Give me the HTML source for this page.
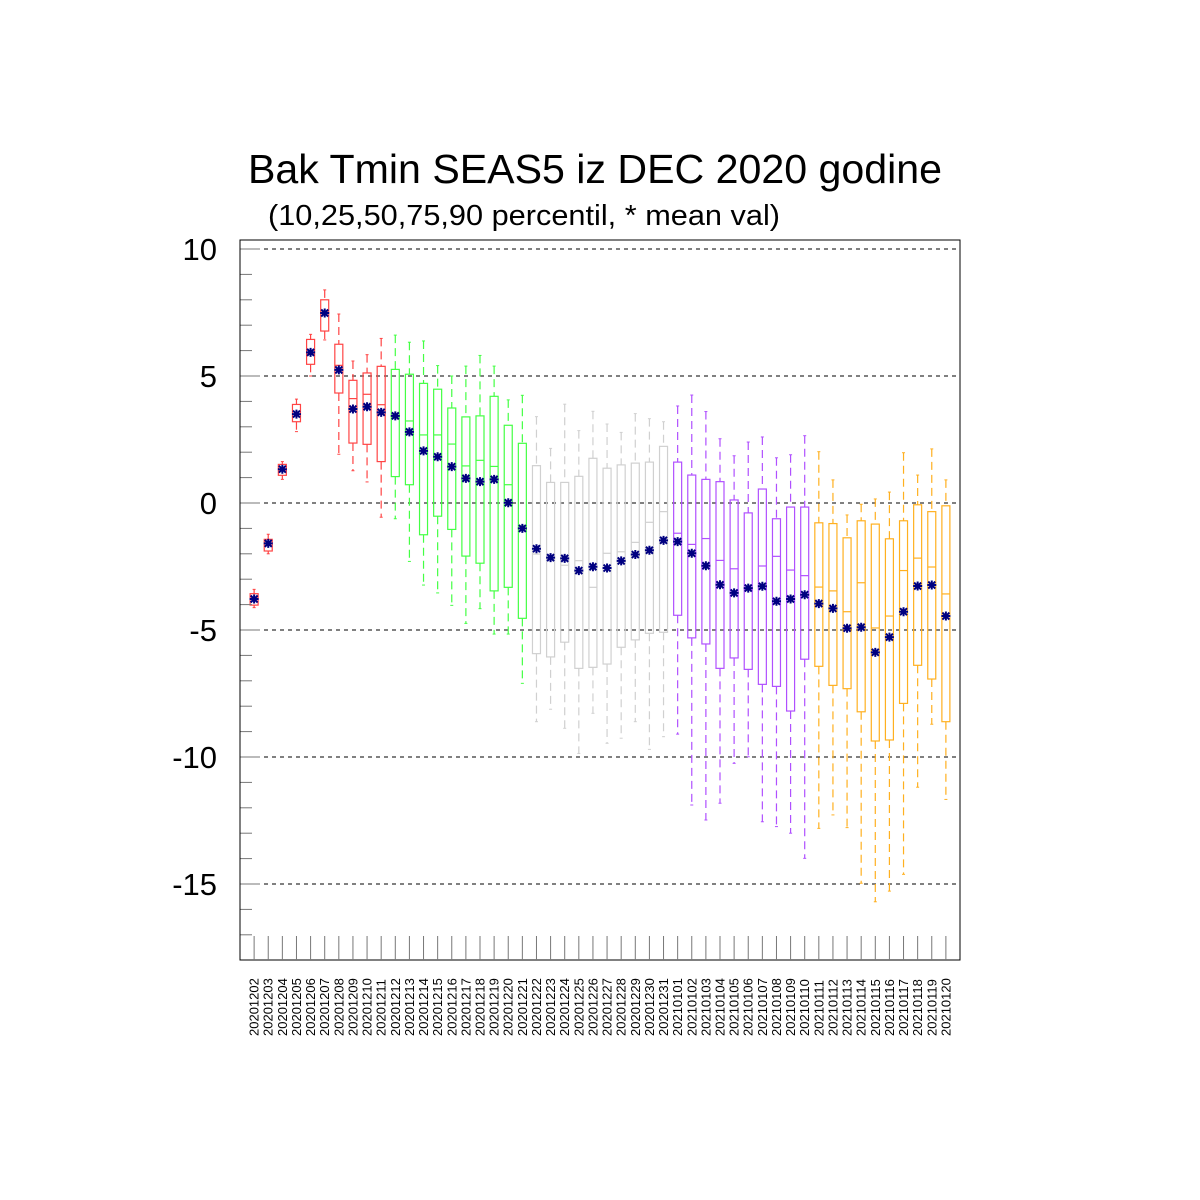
<!DOCTYPE html>
<html><head><meta charset="utf-8"><style>
body{margin:0;background:#fff}
svg{display:block}
text{font-family:"Liberation Sans",sans-serif}
</style></head><body>
<svg id="chart" width="1200" height="1200" xmlns="http://www.w3.org/2000/svg">
<rect width="1200" height="1200" fill="#fff"/>
<text x="595" y="183" font-size="41" text-anchor="middle" textLength="694" lengthAdjust="spacingAndGlyphs">Bak Tmin SEAS5 iz DEC 2020 godine</text>
<text x="268" y="225" font-size="29" textLength="512" lengthAdjust="spacingAndGlyphs">(10,25,50,75,90 percentil, * mean val)</text>
<g id="grid"></g><g id="marks"></g><g id="axes"></g>
</svg>
<script>
const categories=["20201202","20201203","20201204","20201205","20201206","20201207","20201208","20201209","20201210","20201211","20201212","20201213","20201214","20201215","20201216","20201217","20201218","20201219","20201220","20201221","20201222","20201223","20201224","20201225","20201226","20201227","20201228","20201229","20201230","20201231","20210101","20210102","20210103","20210104","20210105","20210106","20210107","20210108","20210109","20210110","20210111","20210112","20210113","20210114","20210115","20210116","20210117","20210118","20210119","20210120"];
const p90=[-3.40,-1.23,1.63,4.09,6.64,8.39,7.44,5.59,5.84,6.48,6.61,6.33,6.38,5.41,5.0,5.39,5.81,5.39,4.06,4.24,3.40,2.15,3.89,2.85,3.61,3.11,2.78,3.52,3.32,3.20,3.82,4.25,3.60,2.53,1.86,2.40,2.60,1.78,1.90,2.65,2.02,0.91,-0.47,-0.05,0.16,0.43,1.98,1.10,2.13,0.91];
const p75=[-3.57,-1.43,1.52,3.88,6.44,8.00,6.25,4.83,5.12,5.38,5.26,5.07,4.71,4.48,3.74,3.39,3.43,4.20,3.06,2.35,1.47,0.81,0.81,1.05,1.76,1.37,1.50,1.57,1.61,2.23,1.61,1.10,0.93,0.84,0.12,-0.39,0.55,-0.62,-0.16,-0.16,-0.78,-0.81,-1.37,-0.70,-0.83,-1.41,-0.70,-0.07,-0.34,-0.11];
const p50=[-3.75,-1.60,1.30,3.50,5.90,7.50,5.42,4.11,4.28,3.87,3.40,3.23,2.68,2.68,2.32,1.46,1.68,1.44,0.72,-0.90,-2.01,-2.20,-2.45,-2.27,-3.32,-1.98,-1.92,-1.55,-0.76,-0.34,-1.19,-1.63,-1.40,-2.26,-2.59,-3.40,-2.48,-2.10,-2.64,-2.86,-3.31,-3.46,-4.28,-3.14,-4.92,-4.45,-2.66,-2.17,-2.52,-3.58];
const p25=[-4.02,-1.89,1.09,3.20,5.46,6.77,4.33,2.36,2.31,1.63,1.04,0.72,-1.25,-0.52,-1.04,-2.09,-2.37,-3.46,-3.32,-4.54,-5.93,-6.06,-5.48,-6.51,-6.47,-6.34,-5.68,-5.39,-5.13,-5.09,-4.42,-5.31,-5.55,-6.51,-6.10,-6.55,-7.14,-7.22,-8.19,-6.15,-6.43,-7.18,-7.31,-8.22,-9.37,-9.33,-7.89,-6.39,-6.93,-8.61];
const p10=[-4.12,-2.00,0.93,2.81,5.00,6.42,1.92,1.27,0.83,-0.56,-0.62,-2.30,-3.23,-3.54,-4.03,-4.74,-4.16,-5.16,-5.16,-7.10,-8.61,-8.12,-8.87,-9.86,-8.28,-9.46,-9.26,-8.61,-9.70,-9.20,-9.10,-11.89,-12.48,-11.82,-10.25,-9.99,-12.55,-12.74,-13.00,-13.99,-12.81,-12.28,-12.78,-14.97,-15.70,-15.28,-14.62,-11.19,-8.71,-11.67];
const means=[-3.78,-1.59,1.33,3.50,5.93,7.48,5.24,3.70,3.79,3.57,3.43,2.80,2.05,1.82,1.43,0.97,0.84,0.93,0.01,-1.00,-1.80,-2.15,-2.18,-2.66,-2.51,-2.56,-2.28,-2.03,-1.86,-1.47,-1.52,-1.98,-2.47,-3.22,-3.54,-3.35,-3.28,-3.87,-3.78,-3.61,-3.96,-4.15,-4.93,-4.89,-5.88,-5.28,-4.28,-3.27,-3.23,-4.45];
const yTicks=[10,5,0,-5,-10,-15];
const groupColors=["#ff4444","#44ff44","#d0d0d0","#b050ff","#ffb020"];

const NS="http://www.w3.org/2000/svg";
const L=240,R=960,T=240,B=960;
const yScale=v=>503-v*25.4;
const xScale=i=>L+(i+1)*(R-L)/(categories.length+1);
function mk(tag,attrs,parent){const e=document.createElementNS(NS,tag);for(const k in attrs)e.setAttribute(k,attrs[k]);parent.appendChild(e);return e;}
const grid=document.getElementById('grid'),marks=document.getElementById('marks'),axes=document.getElementById('axes');

yTicks.forEach(t=>{
  const g=mk('line',{x1:L,x2:R,y1:yScale(t),y2:yScale(t),stroke:'#000','stroke-width':1,'stroke-dasharray':'4,4'},grid);
  
  
  const tx=mk('text',{x:217,y:yScale(t)+11,'font-size':31,'text-anchor':'end'},axes);
  tx.textContent=String(t);
  
  
});
for(let v=-17;v<=10;v++){
  const major=v%5===0;
  const tk=mk('line',{x1:L,x2:L+(major?20:12),y1:yScale(v),y2:yScale(v),stroke:'#777','stroke-width':1},axes);
  
  
}
const frame=mk('rect',{x:L,y:T,width:R-L,height:B-T,fill:'none',stroke:'#000','stroke-width':1},axes);



categories.forEach((c,i)=>{
  const x=xScale(i),col=groupColors[Math.floor(i/10)],w=10;
  const g=mk('g',{},marks);
  
  
  mk('line',{x1:x,x2:x,y1:yScale(p90[i]),y2:yScale(p75[i]),stroke:col,'stroke-width':1.2,'stroke-dasharray':'8,5'},g);
  mk('line',{x1:x,x2:x,y1:yScale(p25[i]),y2:yScale(p10[i]),stroke:col,'stroke-width':1.2,'stroke-dasharray':'8,5'},g);
  mk('line',{x1:x-1.5,x2:x+1.5,y1:yScale(p90[i]),y2:yScale(p90[i]),stroke:col},g);
  mk('line',{x1:x-1.5,x2:x+1.5,y1:yScale(p10[i]),y2:yScale(p10[i]),stroke:col},g);
  mk('rect',{x:x-w/2+1,y:yScale(p75[i]),width:w-2,height:Math.max(1,yScale(p25[i])-yScale(p75[i])),fill:'none',stroke:col,'stroke-width':1.2},g);
  mk('line',{x1:x-w/2+1,x2:x+w/2-1,y1:yScale(p50[i]),y2:yScale(p50[i]),stroke:col,'stroke-width':1.2},g);
  const my=yScale(means[i]);
  const m=mk('path',{d:`M${x-4.5},${my}H${x+4.5}M${x},${my-4.5}V${my+4.5}M${x-3.5},${my-3.5}L${x+3.5},${my+3.5}M${x-3.5},${my+3.5}L${x+3.5},${my-3.5}`,stroke:'#000080','stroke-width':2,fill:'none'},g);
  
  
  const tk=mk('line',{x1:x,x2:x,y1:B,y2:B-24,stroke:'#777'},axes);
  
  
  const lb=mk('text',{x:0,y:0,'font-size':13,'text-anchor':'start',transform:`translate(${x+4.5},1036) rotate(-90)`},axes);
  lb.textContent=c;
  
  
});
</script>
</body></html>
